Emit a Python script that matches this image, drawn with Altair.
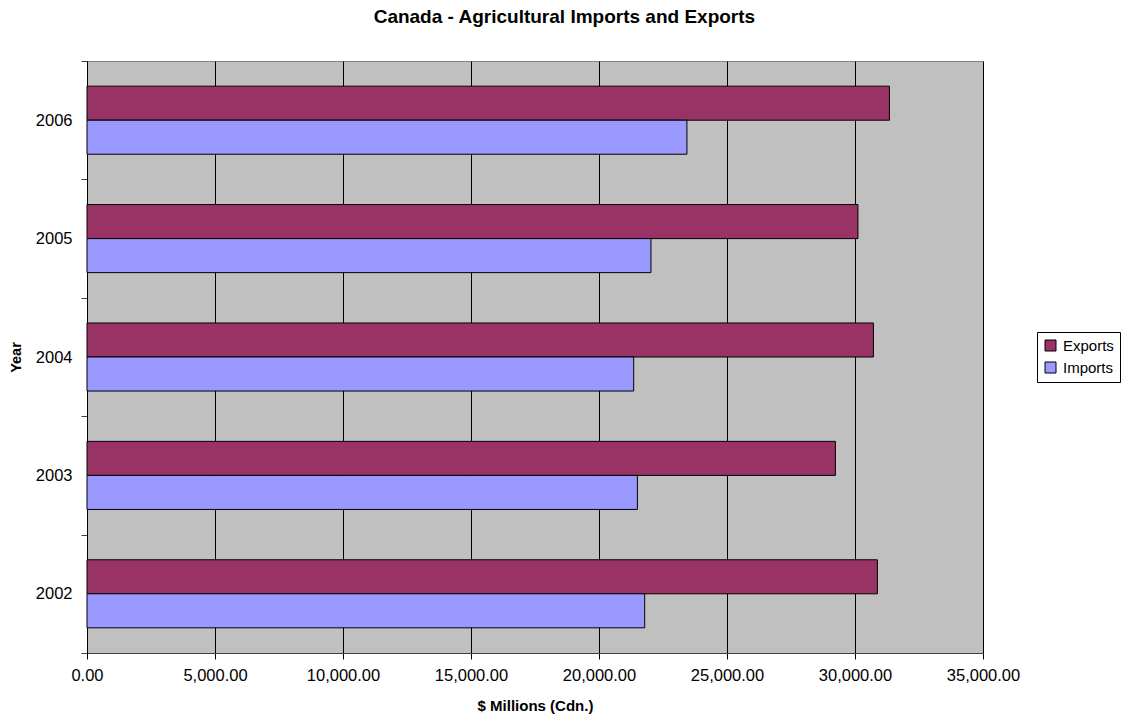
import altair as alt
import pandas as pd

years = ["2002", "2003", "2004", "2005", "2006"]
exports = [30875, 29235, 30720, 30115, 31345]
imports = [21785, 21500, 21355, 22030, 23435]
flows = ["Exports", "Imports"]
colors = ["#993366", "#9999FF"]
x_ticks = [0, 5000, 10000, 15000, 20000, 25000, 30000, 35000]

rows = []
for y, e, i in zip(years, exports, imports):
    rows.append({"Year": y, "Flow": "Exports", "Value": e})
    rows.append({"Year": y, "Flow": "Imports", "Value": i})
df = pd.DataFrame(rows)

FONT = "Liberation Sans"

chart = alt.Chart(df).mark_bar(stroke="black", strokeWidth=1).encode(
    x=alt.X("Value:Q",
            scale=alt.Scale(domain=[0, 35000], nice=False),
            axis=alt.Axis(format=",.2f", values=x_ticks, title="$ Millions (Cdn.)",
                          grid=True, gridColor="black", gridOpacity=1, gridWidth=1,
                          domainColor="#404040", tickColor="black", tickSize=6,
                          labelFontSize=16.5, labelColor="black", labelFont=FONT,
                          labelFlush=False, labelOverlap=False,
                          titleFont=FONT, titleFontSize=15, titleFontWeight="bold",
                          titlePadding=15, labelPadding=8)),
    y=alt.Y("Year:N", sort="descending",
            scale=alt.Scale(paddingInner=0, paddingOuter=0),
            axis=alt.Axis(title="Year", tickBand="extent", grid=False,
                          domainColor="black", tickColor="#404040", tickSize=6,
                          labelFontSize=16.5, labelColor="black", labelFont=FONT,
                          labelPadding=9,
                          titleFont=FONT, titleFontSize=14.5, titleFontWeight="bold",
                          titlePadding=12)),
    yOffset=alt.YOffset("Flow:N", sort=flows,
                        scale=alt.Scale(paddingInner=0, paddingOuter=0.74)),
    color=alt.Color("Flow:N",
                    scale=alt.Scale(domain=flows, range=colors),
                    legend=alt.Legend(title=None, orient="none", legendX=950, legendY=271,
                                      strokeColor="black", fillColor="white", padding=6,
                                      labelFontSize=15, labelFont=FONT, labelColor="black",
                                      labelOffset=5,
                                      symbolType="square", symbolSize=121,
                                      symbolStrokeColor="black", symbolStrokeWidth=1,
                                      symbolOpacity=1, rowPadding=6)),
).properties(
    width=896, height=592,
    title=alt.Title("Canada - Agricultural Imports and Exports", font=FONT, fontSize=19,
                    fontWeight="bold", anchor="middle", frame="bounds", offset=26, color="black"),
    autosize=alt.AutoSizeParams(type="none"),
    padding={"left": 87, "top": 61, "right": 140, "bottom": 64},
).configure_view(fill="#C0C0C0", stroke="#808080", strokeWidth=1)

chart.save("out.html", embed_options={"renderer": "svg", "actions": False})
